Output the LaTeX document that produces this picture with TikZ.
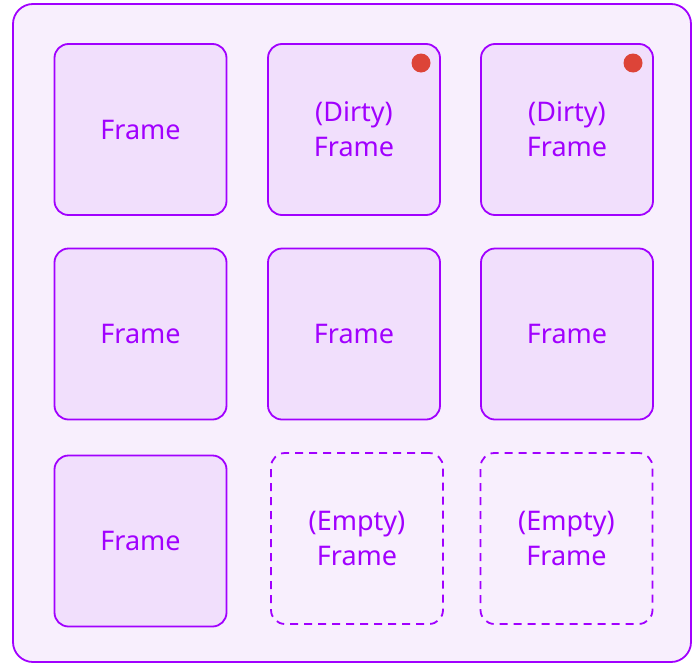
\documentclass[tikz,border=0pt]{standalone}
\usepackage{fontspec}
\setmainfont{Noto Sans}
\usepackage{xcolor}
\usetikzlibrary{positioning}

\definecolor{framepurple}{RGB}{161,0,255}
\definecolor{framefill}{RGB}{241,223,252}
\definecolor{poolfill}{RGB}{248,239,253}
\definecolor{dirtyred}{RGB}{221,68,56}

\tikzset{
  framebox/.style={draw=framepurple, line width=1.8pt, fill=framefill, rounded corners=14pt,
    minimum width=172pt, minimum height=171pt, align=center, text=framepurple,
    font=\fontsize{27}{35}\selectfont},
  emptybox/.style={framebox, fill=none, dash pattern=on 8pt off 6pt},
  dirtydot/.style={circle, fill=dirtyred, minimum size=19pt, inner sep=0pt}
}

\begin{document}
\begin{tikzpicture}[x=1pt, y=-1pt]
  \useasboundingbox (0,0) rectangle (692,664);

  % Frame pool
  \draw[framepurple, line width=1.8pt, fill=poolfill, rounded corners=20pt] (13,4) rectangle (691,662);

  % Row 1
  \node[framebox] (f11) at (140.5,129.5) {Frame};
  \node[framebox] (f12) at (354,129.5) {(Dirty)\\Frame};
  \node[framebox] (f13) at (567,129.5) {(Dirty)\\Frame};
  \node[dirtydot] (d12) at (421,63) {};
  \node[dirtydot] (d13) at (633,63) {};

  % Row 2
  \foreach \x/\n in {140.5/1, 354/2, 567/3} {
    \node[framebox] (f2\n) at (\x,334) {Frame};
  }

  % Row 3
  \node[framebox] (f31) at (140.5,541) {Frame};
  \node[emptybox] (f32) at (357,538.5) {(Empty)\\Frame};
  \node[emptybox] (f33) at (566.5,538.5) {(Empty)\\Frame};
\end{tikzpicture}
\end{document}
